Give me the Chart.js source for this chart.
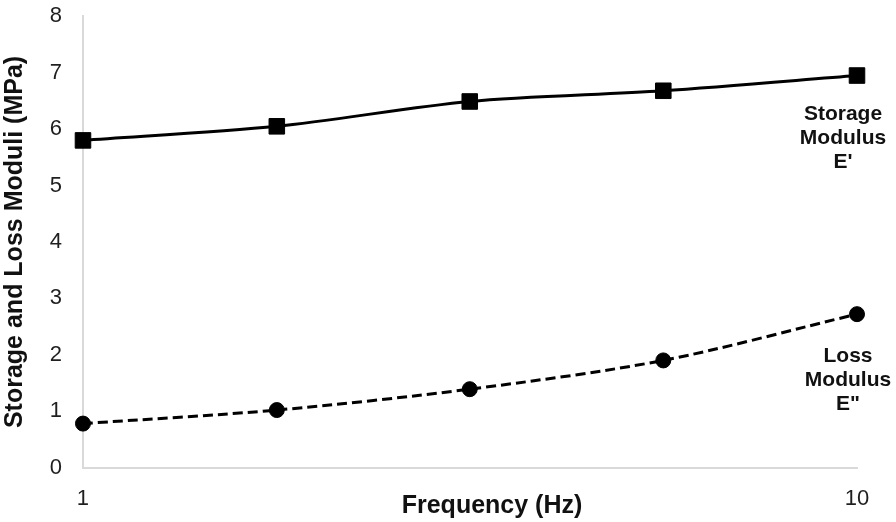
<!DOCTYPE html>
<html lang="en">
<head>
  <meta charset="UTF-8">
  <title>Storage and Loss Moduli vs Frequency</title>
  <script src="https://cdn.jsdelivr.net/npm/chart.js"></script>
  <style>
    body { margin: 0; background: #fff; }
    #wrap { width: 896px; height: 522px; }
  </style>
</head>
<body>
  <div id="wrap"><canvas id="modChart"></canvas></div>

  <script>
    // Data
    const frequencies = [1, 1.78, 3.16, 5.62, 10];
    const storageModulus = [5.80, 6.05, 6.49, 6.68, 6.95];
    const lossModulus = [0.78, 1.02, 1.39, 1.90, 2.72];
    const xTickValues = [1, 10];
    const xTitle = 'Frequency (Hz)';
    const storageLabel = ['Storage', 'Modulus', "E'"];
    const lossLabel = ['Loss', 'Modulus', 'E"'];

    const FONT = '"Liberation Sans", Arial, sans-serif';
    const toPoints = ys => frequencies.map((f, i) => ({ x: f, y: ys[i] }));

    // Series labels under the last point of each line, plus the x title
    // (drawn by hand so it can sit level with the tick labels like the original)
    const extraText = {
      id: 'extraText',
      afterDatasetsDraw(chart) {
        const ctx = chart.ctx;
        ctx.save();
        ctx.fillStyle = '#111';
        ctx.textAlign = 'center';
        ctx.textBaseline = 'middle';
        ctx.font = 'bold 21px ' + FONT;
        chart.data.datasets.forEach((ds, i) => {
          const meta = chart.getDatasetMeta(i);
          const last = meta.data[meta.data.length - 1];
          const o = ds.labelOffset;
          ds.labelLines.forEach((line, j) => {
            ctx.fillText(line, last.x + o.dx, last.y + o.dy + j * 24);
          });
        });
        const area = chart.chartArea;
        ctx.font = 'bold 25px ' + FONT;
        ctx.fillText(xTitle, (area.left + area.right) / 2 + 22, chart.height - 16);
        ctx.restore();
      }
    };

    const ctx = document.getElementById('modChart').getContext('2d');
    new Chart(ctx, {
      type: 'line',
      data: {
        datasets: [
          {
            label: 'Storage Modulus',
            data: toPoints(storageModulus),
            borderColor: '#000',
            borderWidth: 3,
            backgroundColor: '#000',
            pointStyle: 'rect',
            pointRadius: 11,
            pointBorderWidth: 1,
            tension: 0.3,
            clip: false,
            labelLines: storageLabel,
            labelOffset: { dx: -14, dy: 39 }
          },
          {
            label: 'Loss Modulus',
            data: toPoints(lossModulus),
            borderColor: '#000',
            borderWidth: 3,
            borderDash: [10, 5],
            backgroundColor: '#000',
            pointStyle: 'circle',
            pointRadius: 7.5,
            pointBorderWidth: 1,
            tension: 0.3,
            clip: false,
            labelLines: lossLabel,
            labelOffset: { dx: -9, dy: 42 }
          }
        ]
      },
      options: {
        responsive: true,
        maintainAspectRatio: false,
        animation: false,
        layout: { padding: { top: 0, right: 39, bottom: 0, left: 0 } },
        plugins: {
          legend: { display: false },
          tooltip: { enabled: false }
        },
        scales: {
          x: {
            type: 'logarithmic',
            min: 1,
            max: 10,
            afterBuildTicks: scale => { scale.ticks = xTickValues.map(v => ({ value: v })); },
            grid: { display: false },
            border: { display: true, color: '#d9d9d9', width: 2 },
            ticks: {
              padding: 10,
              color: '#1f1f1f',
              font: { family: FONT, size: 22 },
              maxRotation: 0,
              callback: v => String(v)
            }
          },
          y: {
            min: 0,
            max: 8,
            grid: { display: false },
            border: { display: true, color: '#d9d9d9', width: 2 },
            ticks: {
              stepSize: 1,
              padding: 13,
              color: '#1f1f1f',
              font: { family: FONT, size: 22, lineHeight: 0.3 }
            },
            title: {
              display: true,
              text: 'Storage and Loss Moduli (MPa)',
              color: '#111',
              font: { family: FONT, size: 25, weight: 'bold', lineHeight: 1.15 },
              padding: { top: 1, bottom: 7 }
            }
          }
        }
      },
      plugins: [extraText]
    });
  </script>
</body>
</html>
